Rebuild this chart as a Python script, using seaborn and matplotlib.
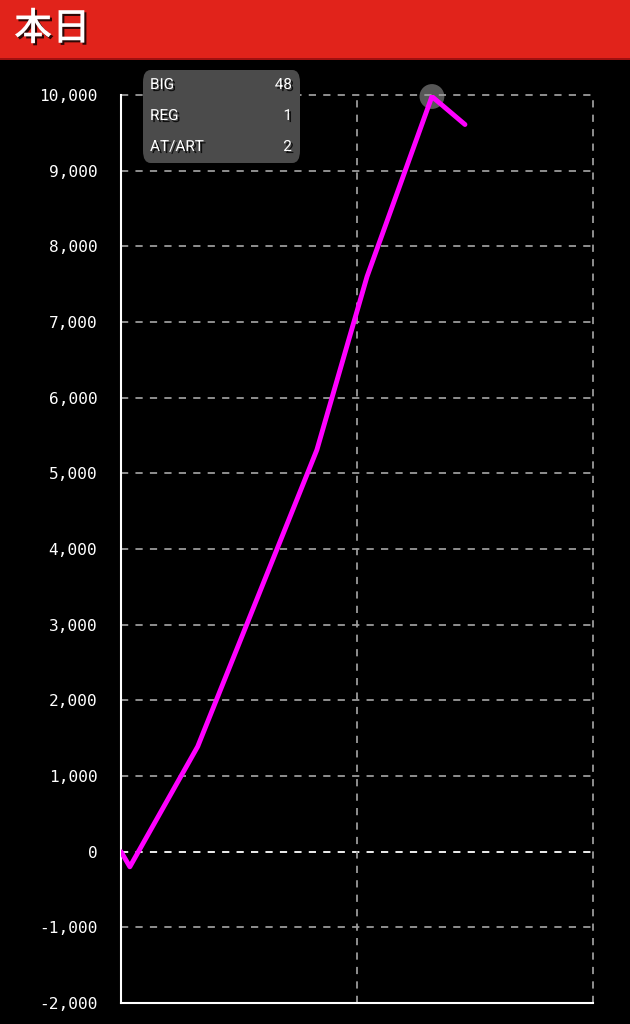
import numpy as np
import pandas as pd
import matplotlib
matplotlib.use("Agg")
import matplotlib.pyplot as plt
import matplotlib.patheffects as pe
from matplotlib.patches import Rectangle, FancyBboxPatch
import seaborn as sns

# données (x = parties, y = différence de médailles)
games = [0, 150, 1300, 3320, 4170, 5270, 5830]
medals = [0, -200, 1390, 5310, 7600, 9980, 9610]
y_ticks = list(range(-2000, 10001, 1000))
x_ticks = [0, 4000, 8000]
title = "本日"
counter_labels = ["BIG", "REG", "AT/ART"]
counter_values = ["48", "1", "2"]

df = pd.DataFrame({"games": games, "medals": medals})

sns.set_style("dark")
plt.rcParams["font.family"] = ["Noto Sans CJK JP", "DejaVu Sans"]

fig = plt.figure(figsize=(6.3, 10.24), dpi=100, facecolor="black")
ax = fig.add_axes([121 / 630, 21 / 1024, 472 / 630, 908 / 1024])
ax.set_facecolor("black")

# grille pointillée
for y in y_ticks[1:]:
    col = "white" if y == 0 else "#9a9a9a"
    ax.axhline(y, color=col, lw=1.3, ls=(0, (4, 4)), zorder=1, clip_on=False)
for x in x_ticks[1:]:
    ax.axvline(x, color="#9a9a9a", lw=1.3, ls=(0, (4, 4)), zorder=1, clip_on=False)

sns.lineplot(data=df, x="games", y="medals", ax=ax, color="#ff00ff", lw=3.5, zorder=4)

# point maximum
imax = int(np.argmax(medals))
ax.scatter([games[imax]], [medals[imax]], s=320, color="#a0a0a0", alpha=0.55,
           edgecolor="none", zorder=3, clip_on=False)

ax.set_xlim(x_ticks[0], x_ticks[-1])
ax.set_ylim(y_ticks[0], y_ticks[-1])
ax.set_xticks(x_ticks)
ax.set_xticklabels([])
ax.set_yticks(y_ticks)
ax.set_yticklabels([f"{v:,}" for v in y_ticks], family="DejaVu Sans Mono",
                   fontsize=11.6, color="white")
ax.set_xlabel("")
ax.set_ylabel("")
ax.grid(False)
ax.tick_params(axis="y", colors="white", length=8, width=1.5, pad=9, direction="out")
ax.tick_params(axis="x", colors="white", length=7, width=1.5, direction="out")
for s in ["top", "right"]:
    ax.spines[s].set_visible(False)
for s in ["left", "bottom"]:
    ax.spines[s].set_color("white")
    ax.spines[s].set_linewidth(1.5)

# bandeau titre
fig.patches.append(Rectangle((0, 1 - 58 / 1024), 1, 58 / 1024, transform=fig.transFigure,
                             facecolor="#e1231b", edgecolor="none", zorder=5))
fig.patches.append(Rectangle((0, 1 - 60 / 1024), 1, 2 / 1024, transform=fig.transFigure,
                             facecolor="#a01010", edgecolor="none", zorder=5))
shadow = [pe.SimplePatchShadow(offset=(1.5, -1.5), shadow_rgbFace="black", alpha=0.8), pe.Normal()]
fig.text(14 / 630, 1 - 29 / 1024, title, color="white", fontsize=27.5, fontweight="medium",
         va="center", ha="left", zorder=6, path_effects=shadow)

# encadré compteurs
fig.patches.append(FancyBboxPatch((143 / 630, 1 - 163 / 1024), 157 / 630, 93 / 1024,
                                  boxstyle="round,pad=0,rounding_size=0.012",
                                  transform=fig.transFigure, facecolor="#4b4b4b",
                                  edgecolor="none", zorder=6))
for i, (lab, val) in enumerate(zip(counter_labels, counter_values)):
    yy = 1 - (85 + 31 * i) / 1024
    fig.text(150 / 630, yy, lab, color="white", fontsize=11, family="Roboto",
             va="center", ha="left", zorder=7, path_effects=shadow)
    fig.text(292 / 630, yy, val, color="white", fontsize=11, family="Roboto",
             va="center", ha="right", zorder=7, path_effects=shadow)

fig.savefig("out.png", dpi=100, facecolor="black")
